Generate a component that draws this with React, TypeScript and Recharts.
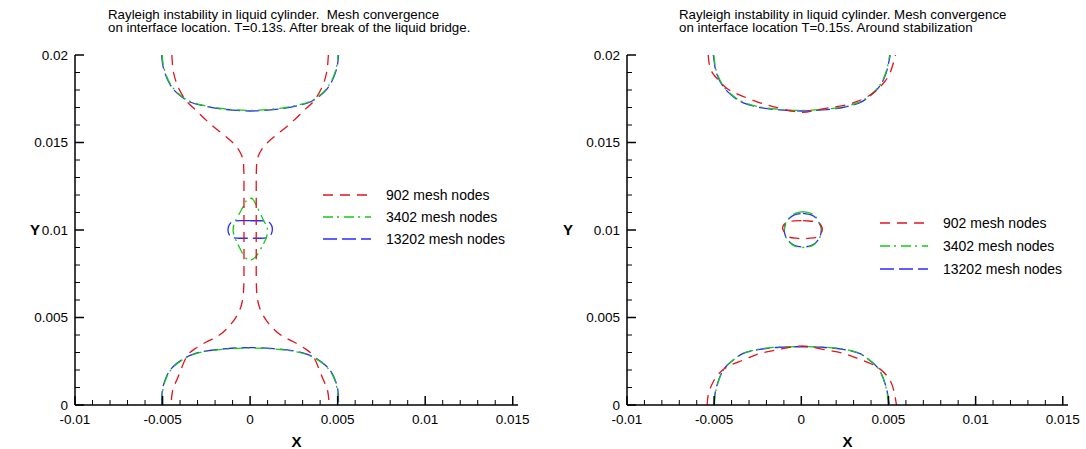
import React from 'react';
import { LineChart, Line, XAxis, YAxis, Legend } from 'recharts';

// ---------- axis ticks ----------
const xMajorTicks = [-0.01, -0.005, 0, 0.005, 0.01, 0.015];
const xAllTicks = [
  -0.01, -0.009, -0.008, -0.007, -0.006, -0.005, -0.004, -0.003, -0.002, -0.001,
  0, 0.001, 0.002, 0.003, 0.004, 0.005, 0.006, 0.007, 0.008, 0.009,
  0.01, 0.011, 0.012, 0.013, 0.014, 0.015,
];
const yMajorTicks = [0, 0.005, 0.01, 0.015, 0.02];
const yAllTicks = [
  0, 0.001, 0.002, 0.003, 0.004, 0.005, 0.006, 0.007, 0.008, 0.009, 0.01,
  0.011, 0.012, 0.013, 0.014, 0.015, 0.016, 0.017, 0.018, 0.019, 0.02,
];

// ---------- series names ----------
const seriesNames = ['902 mesh nodes', '3402 mesh nodes', '13202 mesh nodes'];

type P = { x: number; y: number };
const pts = (a: number[][]): P[] => a.map(([x, y]) => ({ x, y }));

// ---------- LEFT chart: T=0.13s ----------
const l902Left = pts([
  [-0.00447, 0.02], [-0.00437, 0.0190], [-0.00408, 0.0181], [-0.00362, 0.01735],
  [-0.0031, 0.01685], [-0.00248, 0.01625], [-0.00165, 0.01555], [-0.0009, 0.0149],
  [-0.0005, 0.0143], [-0.00037, 0.0137], [-0.00035, 0.0125], [-0.00035, 0.0110],
  [-0.00035, 0.0095], [-0.00035, 0.0080], [-0.00036, 0.0068], [-0.00045, 0.0059],
  [-0.0007, 0.0052], [-0.00115, 0.00455], [-0.00175, 0.0040], [-0.0025, 0.0036],
  [-0.0032, 0.00318], [-0.0036, 0.0028], [-0.00392, 0.0021], [-0.0042, 0.0014],
  [-0.00443, 0.0008], [-0.00451, 0.0],
]);
const l902Right = pts([
  [0.00447, 0.02], [0.00437, 0.0190], [0.00408, 0.0181], [0.00362, 0.01735],
  [0.0031, 0.01685], [0.00248, 0.01625], [0.00165, 0.01555], [0.0009, 0.0149],
  [0.0005, 0.0143], [0.00037, 0.0137], [0.00035, 0.0125], [0.00035, 0.0110],
  [0.00035, 0.0095], [0.00035, 0.0080], [0.00036, 0.0068], [0.00045, 0.0059],
  [0.0007, 0.0052], [0.00115, 0.00455], [0.00175, 0.0040], [0.0025, 0.0036],
  [0.0032, 0.00318], [0.0036, 0.0028], [0.00392, 0.0021], [0.0042, 0.0014],
  [0.00443, 0.0008], [0.00451, 0.0],
]);
const l13202Top = pts([
  [-0.00505, 0.02], [-0.005, 0.0195], [-0.00486, 0.01895], [-0.00462, 0.0184],
  [-0.0043, 0.01795], [-0.0039, 0.0176], [-0.0034, 0.0173], [-0.0027, 0.0171],
  [-0.0019, 0.01695], [-0.001, 0.01685], [0, 0.0168], [0.001, 0.01685],
  [0.0019, 0.01695], [0.0027, 0.0171], [0.0034, 0.0173], [0.0039, 0.0176],
  [0.0043, 0.01795], [0.00462, 0.0184], [0.00486, 0.01895], [0.005, 0.0195],
  [0.00505, 0.02],
]);
const l3402Top = pts([
  [-0.00502, 0.02], [-0.00497, 0.0195], [-0.00483, 0.01895], [-0.0046, 0.01842],
  [-0.00428, 0.01798], [-0.00388, 0.01762], [-0.00338, 0.01733], [-0.0027, 0.01713],
  [-0.0019, 0.01698], [-0.001, 0.01688], [0, 0.01684], [0.001, 0.01688],
  [0.0019, 0.01698], [0.0027, 0.01713], [0.00338, 0.01733], [0.00388, 0.01762],
  [0.00428, 0.01798], [0.0046, 0.01842], [0.00483, 0.01895], [0.00497, 0.0195],
  [0.00502, 0.02],
]);
const l13202Bottom = pts([
  [-0.00505, 0], [-0.00501, 0.00086], [-0.00478, 0.00162], [-0.0044, 0.00219],
  [-0.00383, 0.00263], [-0.00324, 0.00291], [-0.00248, 0.00309], [-0.00133, 0.00322],
  [0, 0.00328], [0.00133, 0.00322], [0.00248, 0.00309], [0.00324, 0.00291],
  [0.00383, 0.00263], [0.0044, 0.00219], [0.00478, 0.00162], [0.00501, 0.00086],
  [0.00505, 0],
]);
const l3402Bottom = pts([
  [-0.00502, 0], [-0.00498, 0.00086], [-0.00476, 0.0016], [-0.00438, 0.00217],
  [-0.00381, 0.00261], [-0.00322, 0.00289], [-0.00248, 0.00307], [-0.00133, 0.0032],
  [0, 0.00325], [0.00133, 0.0032], [0.00248, 0.00307], [0.00322, 0.00289],
  [0.00381, 0.00261], [0.00438, 0.00217], [0.00476, 0.0016], [0.00498, 0.00086],
  [0.00502, 0],
]);
const l13202Drop = pts([
  [0, 0.01053], [0.0006, 0.01053], [0.00095, 0.0105], [0.00115, 0.01038],
  [0.00125, 0.0102], [0.00127, 0.01003], [0.00124, 0.00985], [0.00113, 0.00965],
  [0.00092, 0.00955], [0.0006, 0.00953], [0, 0.00953], [-0.0006, 0.00953],
  [-0.00092, 0.00955], [-0.00113, 0.00965], [-0.00124, 0.00985], [-0.00126, 0.01003],
  [-0.00123, 0.0102], [-0.00113, 0.01038], [-0.00093, 0.0105], [-0.0006, 0.01053],
  [0, 0.01053],
]);
const l3402Drop = pts([
  [0, 0.0118], [0.0002, 0.0117], [0.00057, 0.01095], [0.00085, 0.0104],
  [0.001, 0.01], [0.0009, 0.0095], [0.0006, 0.0089], [0.0003, 0.00845],
  [0, 0.00829], [-0.0003, 0.00845], [-0.00057, 0.00893], [-0.00086, 0.00953],
  [-0.00097, 0.01], [-0.00086, 0.01048], [-0.00052, 0.0111], [-0.0002, 0.0117],
  [0, 0.0118],
]);

// ---------- RIGHT chart: T=0.15s ----------
const r902Top = pts([
  [-0.00534, 0.02], [-0.0053, 0.0196], [-0.00514, 0.01905], [-0.00476, 0.01857],
  [-0.00428, 0.0181], [-0.00352, 0.01771], [-0.00237, 0.01727], [-0.00123, 0.01695],
  [0, 0.01672], [0.00088, 0.01686], [0.00202, 0.01705], [0.00317, 0.01733],
  [0.00422, 0.0179], [0.0048, 0.0185], [0.00508, 0.01895], [0.0053, 0.0196],
  [0.0054, 0.02],
]);
const r13202Top = pts([
  [-0.00505, 0.02], [-0.00498, 0.0195], [-0.00486, 0.01895], [-0.00448, 0.01819],
  [-0.0039, 0.01762], [-0.00333, 0.01727], [-0.00237, 0.017], [-0.00123, 0.01686],
  [0, 0.0168], [0.00123, 0.01686], [0.00237, 0.017], [0.00333, 0.01727],
  [0.0039, 0.01762], [0.00448, 0.01819], [0.00486, 0.01895], [0.005, 0.0195],
  [0.0051, 0.02],
]);
const r3402Top = pts([
  [-0.00502, 0.02], [-0.00496, 0.0195], [-0.00484, 0.01897], [-0.00446, 0.01821],
  [-0.00388, 0.01764], [-0.00331, 0.0173], [-0.00237, 0.01703], [-0.00123, 0.01689],
  [0, 0.01683], [0.00123, 0.01689], [0.00237, 0.01703], [0.00331, 0.0173],
  [0.00388, 0.01764], [0.00446, 0.01821], [0.00484, 0.01897], [0.00498, 0.0195],
  [0.00507, 0.02],
]);
const r902Bottom = pts([
  [-0.0054, 0], [-0.00534, 0.00057], [-0.00505, 0.00133], [-0.00438, 0.0021],
  [-0.00333, 0.00257], [-0.00237, 0.00295], [-0.00123, 0.00318], [0, 0.00337],
  [0.00123, 0.00318], [0.0024, 0.00295], [0.00336, 0.00261], [0.00432, 0.00219],
  [0.00508, 0.00143], [0.00536, 0.00057], [0.00546, 0],
]);
const r13202Bottom = pts([
  [-0.00501, 0], [-0.00497, 0.0005], [-0.00486, 0.00105], [-0.00448, 0.002],
  [-0.0039, 0.00257], [-0.00333, 0.00295], [-0.00237, 0.00318], [-0.00123, 0.0033],
  [0, 0.00333], [0.00123, 0.0033], [0.00237, 0.00318], [0.00333, 0.00295],
  [0.0039, 0.00257], [0.00448, 0.002], [0.00486, 0.00105], [0.00497, 0.0005],
  [0.00505, 0],
]);
const r3402Bottom = pts([
  [-0.00499, 0], [-0.00495, 0.0005], [-0.00484, 0.00107], [-0.00446, 0.00202],
  [-0.00388, 0.00259], [-0.00331, 0.00296], [-0.00237, 0.0032], [-0.00123, 0.00331],
  [0, 0.00334], [0.00123, 0.00331], [0.00237, 0.0032], [0.00331, 0.00296],
  [0.00388, 0.00259], [0.00446, 0.00202], [0.00484, 0.00107], [0.00495, 0.0005],
  [0.00502, 0],
]);
const r902Drop = pts([
  [0.0001, 0.01053], [0.0006, 0.0105], [0.0009, 0.01045], [0.0011, 0.0103],
  [0.0012, 0.0101], [0.00115, 0.00985], [0.0009, 0.0096], [0.0005, 0.00953],
  [0.0001, 0.0095], [-0.0003, 0.00953], [-0.0007, 0.0096], [-0.00095, 0.00985],
  [-0.00108, 0.0101], [-0.001, 0.0103], [-0.0008, 0.01045], [-0.0004, 0.01052],
  [0.0001, 0.01053],
]);
const r13202Drop = pts([
  [0.0001, 0.01095], [0.0006, 0.01085], [0.0009, 0.0106], [0.00112, 0.0102],
  [0.00115, 0.01], [0.0011, 0.0097], [0.0009, 0.00935], [0.0006, 0.00912],
  [0.0001, 0.00903], [-0.0004, 0.00912], [-0.0007, 0.00935], [-0.00092, 0.00968],
  [-0.00097, 0.01], [-0.0009, 0.01035], [-0.0007, 0.01065], [-0.0004, 0.01087],
  [0.0001, 0.01095],
]);
const r3402Drop = pts([
  [0.0001, 0.01105], [0.0006, 0.01093], [0.0009, 0.01065], [0.00113, 0.01022],
  [0.00116, 0.01], [0.00111, 0.00968], [0.0009, 0.00932], [0.0006, 0.00909],
  [0.0001, 0.009], [-0.0004, 0.00909], [-0.0007, 0.00932], [-0.00093, 0.00966],
  [-0.00098, 0.01], [-0.00091, 0.01037], [-0.0007, 0.01068], [-0.0004, 0.01093],
  [0.0001, 0.01105],
]);

// ---------- styles ----------
const COLORS = ['#e3131b', '#18c818', '#2b2bff'];
const DASHES = ['10 7', '10 4 2 5', '14 5'];
const FONT = '"Liberation Sans", Arial, Helvetica, sans-serif';
const TICK_FS = 13.5;

const XTick = (props: any) => {
  const { x, y, payload } = props;
  const v = payload.value;
  const major = xMajorTicks.includes(v);
  return (
    <g>
      <line x1={x} y1={y} x2={x} y2={y - (major ? 9 : 5)} stroke="#000" strokeWidth={major ? 1.5 : 1} />
      {major && (
        <text x={x} y={y + 19} textAnchor="middle" fontSize={TICK_FS} fill="#000" fontFamily={FONT}>
          {String(v)}
        </text>
      )}
    </g>
  );
};

const YTick = (props: any) => {
  const { x, y, payload } = props;
  const v = payload.value;
  const major = yMajorTicks.includes(v);
  return (
    <g>
      <line x1={x} y1={y} x2={x + (major ? 9 : 5)} y2={y} stroke="#000" strokeWidth={major ? 1.5 : 1} />
      {major && (
        <text x={x - 7} y={y + 4.5} textAnchor="end" fontSize={TICK_FS} fill="#000" fontFamily={FONT}>
          {String(v)}
        </text>
      )}
    </g>
  );
};

const LegendContent = ({ rowH }: { rowH: number }) => (
  <div style={{ fontFamily: FONT, fontSize: 14, color: '#000' }}>
    {seriesNames.map((n, i) => (
      <div key={n} style={{ display: 'flex', alignItems: 'center', height: rowH }}>
        <svg width={48} height={8} style={{ display: 'block' }}>
          <line x1={0} y1={4} x2={48} y2={4} stroke={COLORS[i]} strokeWidth={1.3} strokeDasharray={DASHES[i]} />
        </svg>
        <span style={{ marginLeft: 15, whiteSpace: 'nowrap' }}>{n}</span>
      </div>
    ))}
  </div>
);

type Seg = { data: P[]; s: number };

const Panel = ({
  segs, marginLeft, yAxisWidth, marginRight, legendLeft, legendTop, rowH,
}: { segs: Seg[]; marginLeft: number; yAxisWidth: number; marginRight: number; legendLeft: number; legendTop: number; rowH: number }) => (
  <LineChart
    width={543}
    height={449}
    margin={{ top: 55, right: marginRight, left: marginLeft, bottom: 0 }}
  >
    <XAxis
      type="number"
      dataKey="x"
      domain={[-0.01, 0.0153]}
      allowDataOverflow
      ticks={xAllTicks}
      interval={0}
      tick={<XTick />}
      tickLine={false}
      tickSize={0}
      tickMargin={0}
      height={44}
      axisLine={{ stroke: '#000', strokeWidth: 1.5 }}
      label={{ value: 'X', position: 'insideBottom', offset: 2, fill: '#000', fontSize: 15, fontWeight: 'bold', fontFamily: FONT }}
    />
    <YAxis
      type="number"
      dataKey="y"
      domain={[0, 0.02]}
      allowDataOverflow
      ticks={yAllTicks}
      interval={0}
      tick={<YTick />}
      tickLine={false}
      tickSize={0}
      tickMargin={0}
      width={yAxisWidth}
      axisLine={{ stroke: '#000', strokeWidth: 1.5 }}
      label={{ value: 'Y', position: 'insideLeft', offset: 6, fill: '#000', fontSize: 15, fontWeight: 'bold', fontFamily: FONT }}
    />
    {segs.map((sg, i) => (
      <Line
        key={i}
        data={sg.data}
        dataKey="y"
        type="natural"
        stroke={COLORS[sg.s]}
        strokeWidth={1.3}
        strokeDasharray={DASHES[sg.s]}
        dot={false}
        activeDot={false}
        legendType="none"
        isAnimationActive={false}
      />
    ))}
    <Legend
      layout="vertical"
      align="center"
      verticalAlign="middle"
      content={<LegendContent rowH={rowH} />}
      wrapperStyle={{ left: legendLeft, top: legendTop, width: 200 }}
    />
  </LineChart>
);

const leftSegs: Seg[] = [
  { data: l13202Top, s: 2 }, { data: l13202Bottom, s: 2 }, { data: l13202Drop, s: 2 },
  { data: l3402Top, s: 1 }, { data: l3402Bottom, s: 1 }, { data: l3402Drop, s: 1 },
  { data: l902Left, s: 0 }, { data: l902Right, s: 0 },
];
const rightSegs: Seg[] = [
  { data: r13202Top, s: 2 }, { data: r13202Bottom, s: 2 }, { data: r13202Drop, s: 2 },
  { data: r3402Top, s: 1 }, { data: r3402Bottom, s: 1 }, { data: r3402Drop, s: 1 },
  { data: r902Top, s: 0 }, { data: r902Bottom, s: 0 }, { data: r902Drop, s: 0 },
];

const titleStyle: React.CSSProperties = {
  position: 'absolute', fontFamily: FONT, fontSize: 13.3, lineHeight: '13px', color: '#000', whiteSpace: 'nowrap',
};

export default function App() {
  return (
    <div style={{ position: 'absolute', left: 0, top: 0, width: 1086, height: 449, background: '#fff', fontFamily: FONT }}>
      <div style={{ position: 'absolute', left: 0, top: 0 }}>
        <Panel segs={leftSegs} marginLeft={24} yAxisWidth={51} marginRight={25} legendLeft={323} legendTop={184} rowH={22} />
      </div>
      <div style={{ position: 'absolute', left: 543, top: 0 }}>
        <Panel segs={rightSegs} marginLeft={14} yAxisWidth={70} marginRight={18} legendLeft={337} legendTop={211} rowH={23} />
      </div>
      <div style={{ ...titleStyle, left: 108, top: 8 }}>
        Rayleigh instability in liquid cylinder.&nbsp; Mesh convergence<br />
        on interface location. T=0.13s. After break of the liquid bridge.
      </div>
      <div style={{ ...titleStyle, left: 679, top: 8 }}>
        Rayleigh instability in liquid cylinder. Mesh convergence<br />
        on interface location T=0.15s. Around stabilization
      </div>
    </div>
  );
}
